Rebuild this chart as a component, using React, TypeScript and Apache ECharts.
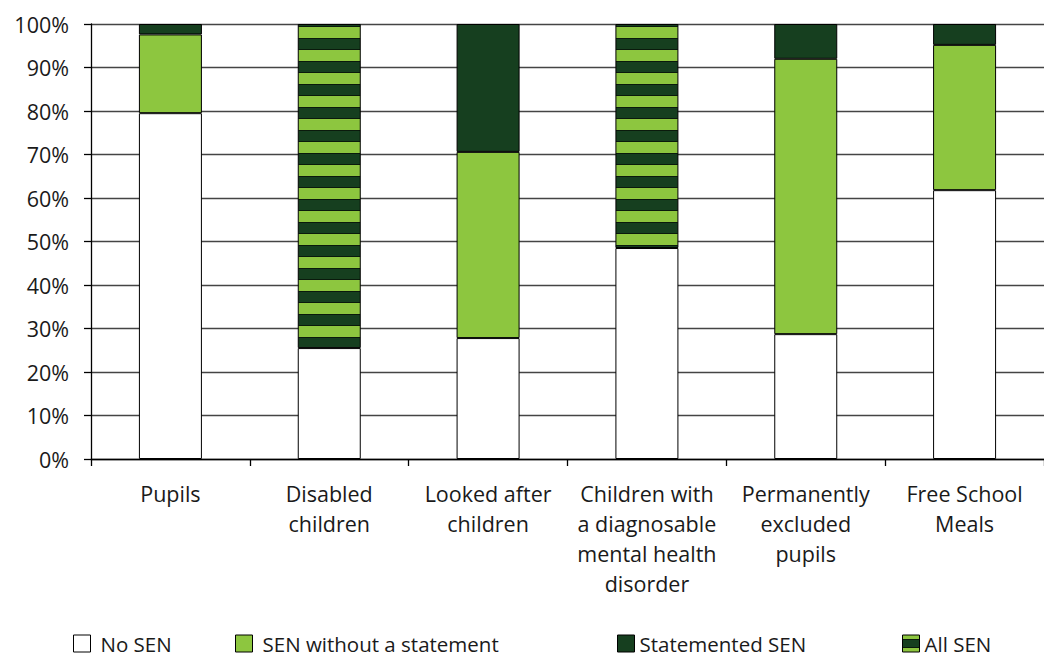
import React, { useEffect, useRef } from "react";
import * as echarts from "echarts";

const categories = [
  "Pupils",
  "Disabled\nchildren",
  "Looked after\nchildren",
  "Children with\na diagnosable\nmental health\ndisorder",
  "Permanently\nexcluded\npupils",
  "Free School\nMeals",
];
const seriesNames = ["No SEN", "SEN without a statement", "Statemented SEN", "All SEN"];
const noSEN = [79.5, 25.5, 27.8, 48.5, 28.7, 61.8];
const senWithoutStatement = [18.1, null, 42.8, null, 63.3, 33.4];
const statementedSEN = [2.4, null, 29.4, null, 8.0, 4.8];
const allSEN = [null, 74.5, null, 51.5, null, null];
const yMin = 0;
const yMax = 100;
const yStep = 10;

const LIGHT = "#8dc63f";
const DARK = "#163f1f";
const LINE = "#0a1a0c";
const FONT = "'Open Sans', sans-serif";
const TEXT = "#1a1a1a";

function tile(rows: string[]): HTMLCanvasElement {
  const c = document.createElement("canvas");
  c.width = 4;
  c.height = rows.length;
  const ctx = c.getContext("2d")!;
  rows.forEach((col, i) => {
    ctx.fillStyle = col;
    ctx.fillRect(0, i, 4, 1);
  });
  return c;
}

function barTileRows(): string[] {
  const r: string[] = [];
  for (let i = 0; i < 23; i++) {
    if (i === 3 || i === 15) r.push(LINE);
    else if (i >= 4 && i <= 14) r.push(LIGHT);
    else r.push(DARK);
  }
  return r;
}

function legendTileRows(): string[] {
  const r: string[] = [];
  for (let i = 0; i < 17; i++) {
    if (i === 4 || i === 12) r.push(LINE);
    else if (i <= 3 || i >= 13) r.push(LIGHT);
    else r.push(DARK);
  }
  return r;
}

export default function App() {
  const ref = useRef<HTMLDivElement>(null);
  useEffect(() => {
    document.body.style.margin = "0";
    const chart = echarts.init(ref.current!, null, { renderer: "svg" });
    const barCanvas = tile(barTileRows());
    const legendCanvas = tile(legendTileRows());
    const pattern = (y: number, c: HTMLCanvasElement) => ({
      image: c,
      repeat: "repeat",
      imageWidth: c.width,
      imageHeight: c.height,
      x: 0,
      y,
    });

    const legendTop = 633;
    const legendLefts = [73, 235, 617, 902];
    const legendPads = [5, 5, 0, 0];

    const baseBar = {
      type: "bar",
      stack: "total",
      barWidth: 63,
      itemStyle: { borderColor: "#000", borderWidth: 1 },
    };

    const build = (allData: any[]) => ({
      animation: false,
      grid: { left: 91, right: -14, top: 24, bottom: 198, containLabel: false },
      legend: seriesNames.map((name, i) => ({
        data: [
          i === 3
            ? { name, itemStyle: { color: pattern(legendTop, legendCanvas) } }
            : { name },
        ],
        left: legendLefts[i],
        top: legendTop,
        padding: 0,
        icon: "rect",
        itemWidth: 17,
        itemHeight: 17,
        selectedMode: false,
        itemStyle: { borderColor: "#000", borderWidth: 1 },
        textStyle: {
          fontFamily: FONT,
          fontSize: 20.5,
          color: TEXT,
          lineHeight: 17,
          padding: [0, 0, 0, legendPads[i]],
        },
      })),
      xAxis: {
        type: "category",
        data: categories,
        axisLine: { lineStyle: { color: "#000", width: 1.3 } },
        axisTick: { show: true, length: 7, lineStyle: { color: "#000", width: 1.3 } },
        axisLabel: {
          interval: 0,
          fontFamily: FONT,
          fontSize: 21.5,
          lineHeight: 30,
          color: TEXT,
          margin: 19,
        },
      },
      yAxis: {
        type: "value",
        min: yMin,
        max: yMax,
        interval: yStep,
        axisLine: { show: true, lineStyle: { color: "#000", width: 1.3 } },
        axisTick: { show: true, length: 7, lineStyle: { color: "#000", width: 1.3 } },
        splitLine: { show: true, lineStyle: { color: "#444", width: 1.3 } },
        axisLabel: {
          formatter: "{value}%",
          fontFamily: FONT,
          fontSize: 21.5,
          color: TEXT,
          margin: 22,
        },
      },
      series: [
        { ...baseBar, name: seriesNames[0], data: noSEN, itemStyle: { ...baseBar.itemStyle, color: "#ffffff" } },
        { ...baseBar, name: seriesNames[1], data: senWithoutStatement, itemStyle: { ...baseBar.itemStyle, color: LIGHT } },
        { ...baseBar, name: seriesNames[2], data: statementedSEN, itemStyle: { ...baseBar.itemStyle, color: DARK } },
        { ...baseBar, name: seriesNames[3], data: allData, itemStyle: { ...baseBar.itemStyle, color: pattern(0, barCanvas) } },
      ],
    });

    chart.setOption(build(allSEN) as any);
    // anchor stripes to the bottom of each striped bar
    const anchored = allSEN.map((v, i) => {
      if (v == null) return null;
      const base = chart.convertToPixel({ gridIndex: 0 } as any, [i, noSEN[i]]) as number[];
      return { value: v, itemStyle: { color: pattern(base[1], barCanvas) } };
    });
    chart.setOption(build(anchored) as any, true);

    return () => chart.dispose();
  }, []);
  return <div ref={ref} style={{ width: 1044, height: 657 }} />;
}
